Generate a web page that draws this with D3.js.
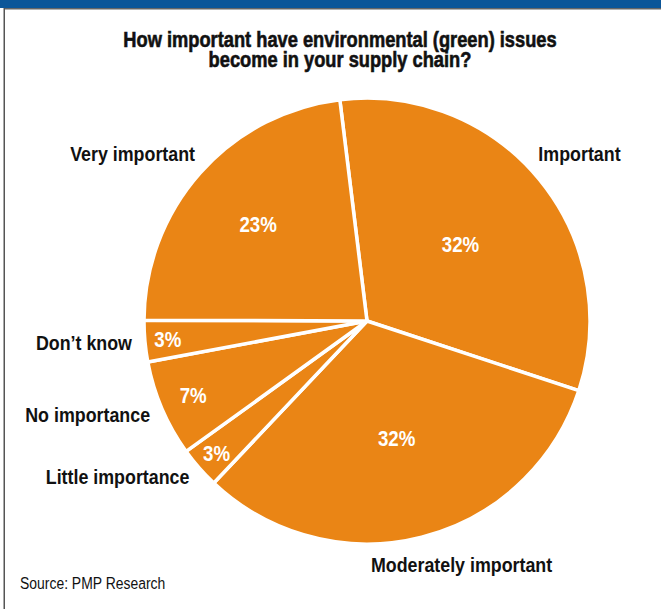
<!DOCTYPE html>
<html>
<head>
<meta charset="utf-8">
<script src="https://cdn.jsdelivr.net/npm/d3@7/dist/d3.min.js"></script>
<style>
  html, body { margin: 0; padding: 0; background: #fff; }
  svg { display: block; }
  text { font-family: "Liberation Sans", Arial, Helvetica, sans-serif; }
</style>
</head>
<body>
<script>
// Survey answers, clockwise from just left of twelve o'clock
const categories = ["Important", "Moderately important", "Little importance", "No importance", "Don\u2019t know", "Very important"];
const shares = [32, 32, 3, 7, 3, 23];
const titleLines = ["How important have environmental (green) issues", "become in your supply chain?"];
const sourceNote = "Source: PMP Research";

const W = 661, H = 609;
const cx = 367, cy = 321, R = 223;
const ORANGE = "#EA8515";
const NARROW_BOLD = 0.85, NARROW = 0.82; // horizontal squeeze for a narrow typeface look

const svg = d3.select("body").append("svg")
  .attr("width", W).attr("height", H);

// position a text at (x, y) and squeeze it horizontally around that anchor
function place(sel, x, y, k = NARROW_BOLD) {
  sel.attr("x", 0).attr("y", 0)
    .attr("transform", (d, i, n) => {
      const px = typeof x === "function" ? x(d, i, n) : x;
      const py = typeof y === "function" ? y(d, i, n) : y;
      return `translate(${px},${py}) scale(${k},1)`;
    });
  return sel;
}

// header band and frame
svg.append("rect").attr("x", 0).attr("y", 0).attr("width", W).attr("height", 8).attr("fill", "#0B5699");
svg.append("rect").attr("x", 4).attr("y", 8).attr("width", W - 4).attr("height", 1.5).attr("fill", "#666");
svg.append("rect").attr("x", 3.5).attr("y", 8).attr("width", 1.5).attr("height", H - 8).attr("fill", "#555");

// title, two centred lines in one text block
const title = svg.append("text")
  .call(place, 340, 47)
  .attr("text-anchor", "middle")
  .attr("font-size", 21.5).attr("font-weight", "bold").attr("fill", "#111")
  .attr("stroke", "#111").attr("stroke-width", 0.6);
title.selectAll("tspan").data(titleLines).join("tspan")
  .attr("x", 0).attr("dy", (d, i) => i ? 20 : 0)
  .text(d => d);

const rows = categories.map((c, i) => ({ category: c, value: shares[i] }));
const start = -7 * Math.PI / 180;
const pie = d3.pie().sort(null).value(d => d.value)
  .startAngle(start).endAngle(start + 2 * Math.PI);
const arcs = pie(rows);
const arc = d3.arc().innerRadius(0).outerRadius(R);

const g = svg.append("g").attr("transform", `translate(${cx},${cy})`);
g.selectAll("path").data(arcs).join("path")
  .attr("d", arc)
  .attr("fill", ORANGE)
  .attr("stroke", "#fff").attr("stroke-width", 3.5).attr("stroke-linejoin", "round");

// percentage labels: thin slices get pushed toward the rim
const labelRadius = d3.scaleLinear().domain([3, 32]).range([200, 121]);
const mid = d => (d.startAngle + d.endAngle) / 2;
g.selectAll("text.pct").data(arcs).join("text")
  .attr("class", "pct")
  .call(place, d => labelRadius(d.value) * Math.sin(mid(d)), d => -labelRadius(d.value) * Math.cos(mid(d)))
  .attr("dy", "0.36em")
  .attr("text-anchor", "middle")
  .attr("font-size", 22).attr("font-weight", "bold").attr("fill", "#fff")
  .text(d => d.value + "%");

// category labels just outside the rim
const outerR = 236;
const nudge = {
  "Important": [-11, -18, "start"],
  "Very important": [4.5, -11, "end"],
  "Moderately important": [-54, 15, "start"]
};
const side = d => nudge[d.data.category] || [0, 0, Math.sin(mid(d)) < 0 ? "end" : "start"];
g.selectAll("text.cat").data(arcs).join("text")
  .attr("class", "cat")
  .call(place, d => outerR * Math.sin(mid(d)) + side(d)[0], d => -outerR * Math.cos(mid(d)) + side(d)[1])
  .attr("text-anchor", d => side(d)[2])
  .attr("dy", "0.36em")
  .attr("font-size", 21).attr("font-weight", "bold").attr("fill", "#111")
  .text(d => d.data.category);

svg.append("text")
  .call(place, 20, 589, NARROW)
  .attr("font-size", 17).attr("fill", "#111")
  .text(sourceNote);
</script>
</body>
</html>
